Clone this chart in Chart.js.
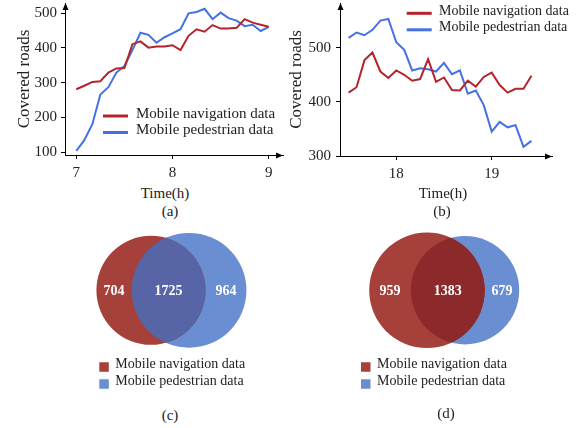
<!DOCTYPE html>
<html>
<head>
<meta charset="utf-8">
<title>Covered roads: navigation vs pedestrian data</title>
<script src="https://cdn.jsdelivr.net/npm/chart.js@4.4.1/dist/chart.umd.min.js"></script>
<style>
  html, body { margin: 0; padding: 0; background: #fff; }
  #fig { position: relative; width: 584px; height: 428px; overflow: hidden;
         font-family: "Liberation Serif", "Times New Roman", serif; color: #222; }
  #fig canvas { position: absolute; }
  .lbl { position: absolute; transform: translate(-50%, -50%); white-space: nowrap; line-height: 1; }
</style>
</head>
<body>
<div id="fig">
  <canvas id="chartA" width="285" height="180" style="left:0;top:0"></canvas>
  <canvas id="chartB" width="304" height="180" style="left:280px;top:0"></canvas>
  <canvas id="chartC" width="290" height="175" style="left:0;top:222px"></canvas>
  <canvas id="chartD" width="304" height="175" style="left:280px;top:222px"></canvas>

  <div class="lbl" style="left:165px;top:193px;font-size:15px">Time(h)</div>
  <div class="lbl" style="left:170px;top:211px;font-size:15px">(a)</div>
  <div class="lbl" style="left:443px;top:193px;font-size:15px">Time(h)</div>
  <div class="lbl" style="left:442px;top:211px;font-size:15px">(b)</div>
  <div class="lbl" style="left:170px;top:415px;font-size:15px">(c)</div>
  <div class="lbl" style="left:446px;top:413px;font-size:15px">(d)</div>
</div>

<script>
// ---- data ---------------------------------------------------------------
const seriesNames = ['Mobile navigation data', 'Mobile pedestrian data'];

// Morning peak, 5-minute samples
const timesMorning = ['7:00','7:05','7:10','7:15','7:20','7:25','7:30','7:35','7:40','7:45',
                      '7:50','7:55','8:00','8:05','8:10','8:15','8:20','8:25','8:30','8:35',
                      '8:40','8:45','8:50','8:55','9:00'];
const navMorning = [281, 291, 302, 304, 329, 341, 342, 411, 419, 401,
                    404, 404, 408, 394, 435, 454, 447, 466, 456, 456,
                    458, 483, 473, 467, 461];
const pedMorning = [103, 134, 180, 266, 287, 329, 348, 394, 444, 438,
                    415, 431, 442, 454, 500, 504, 513, 483, 502, 486,
                    479, 463, 467, 449, 461];

// Evening peak, 5-minute samples
const timesEvening = ['17:30','17:35','17:40','17:45','17:50','17:55','18:00','18:05','18:10','18:15',
                      '18:20','18:25','18:30','18:35','18:40','18:45','18:50','18:55','19:00','19:05',
                      '19:10','19:15','19:20','19:25'];
const navEvening = [417, 427, 477, 491, 456, 444, 458, 450, 439, 442,
                    479, 437, 445, 422, 421, 439, 428, 446, 454, 431,
                    417, 424, 424, 448];
const pedEvening = [518, 528, 523, 533, 550, 553, 510, 496, 458, 462,
                    460, 456, 472, 451, 458, 415, 421, 394, 345, 363,
                    353, 357, 317, 328];

// Axis ticks
const xTicksMorning = [7, 8, 9];
const yTicksMorning = [100, 200, 300, 400, 500];
const xTicksEvening = [18, 19];
const yTicksEvening = [300, 400, 500];

// Road counts: [navigation only, both, pedestrian only]
const overlapMorning = [704, 1725, 964];
const overlapEvening = [959, 1383, 679];

// ---- styling --------------------------------------------------------------
const RED = '#b3242b';
const BLUE = '#4570e6';
const VENN_RED = '#a6403a';
const VENN_BLUE = '#6a8ed2';
const SERIF = '"Liberation Serif", "Times New Roman", serif';
const INK = '#222';

const toHours = t => { const [h, m] = t.split(':').map(Number); return h + m / 60; };

// arrowheads at the ends of both axes
const axisArrows = {
  id: 'axisArrows',
  afterDraw(chart) {
    const { ctx, chartArea: a } = chart;
    const x0 = Math.floor(a.left) + 0.5, y0 = Math.floor(a.bottom) + 0.5;
    ctx.save();
    ctx.fillStyle = '#000';
    ctx.beginPath();
    ctx.moveTo(x0, a.top); ctx.lineTo(x0 - 3, a.top + 7); ctx.lineTo(x0 + 3, a.top + 7);
    ctx.closePath(); ctx.fill();
    ctx.beginPath();
    ctx.moveTo(a.right, y0); ctx.lineTo(a.right - 7, y0 - 3); ctx.lineTo(a.right - 7, y0 + 3);
    ctx.closePath(); ctx.fill();
    ctx.restore();
  }
};

// legend drawn inside the plot (line swatches or square swatches)
const keyLegend = {
  id: 'keyLegend',
  afterDraw(chart, args, o) {
    const { ctx } = chart;
    ctx.save();
    ctx.font = o.font;
    ctx.textBaseline = 'middle';
    chart.data.datasets.forEach((ds, i) => {
      const y = o.y + i * o.gap;
      if (o.swatch === 'line') {
        ctx.strokeStyle = ds.borderColor;
        ctx.lineWidth = 3;
        ctx.beginPath(); ctx.moveTo(o.x, y); ctx.lineTo(o.x + o.len, y); ctx.stroke();
      } else {
        ctx.fillStyle = ds.backgroundColor;
        ctx.fillRect(o.x, y - o.len / 2, o.len, o.len);
      }
      ctx.fillStyle = INK;
      ctx.fillText(ds.label, o.textX, y + o.textDy);
    });
    ctx.restore();
  }
};

function fixedBox(size, horizontal) {
  return s => {
    if (horizontal) s.height = size; else s.width = size;
    s.paddingTop = s.paddingBottom = s.paddingLeft = s.paddingRight = 0;
  };
}

function lineChart(id, times, nav, ped, cfg) {
  const pts = arr => times.map((t, i) => ({ x: toHours(t), y: arr[i] }));
  const line = (label, data, color) => ({
    label, data, borderColor: color, backgroundColor: color,
    borderWidth: 2, pointRadius: 0, tension: 0, fill: false
  });
  return new Chart(document.getElementById(id), {
    type: 'line',
    data: { datasets: [line(seriesNames[0], pts(nav), RED), line(seriesNames[1], pts(ped), BLUE)] },
    options: {
      responsive: false, animation: false, devicePixelRatio: 1,
      events: [],
      layout: { autoPadding: false, padding: { left: 0, top: 3, right: cfg.padRight, bottom: 0 } },
      plugins: {
        legend: { display: false }, tooltip: { enabled: false },
        keyLegend: Object.assign({ swatch: 'line', len: 25, gap: 16.5, textDy: -2 }, cfg.legend)
      },
      scales: {
        x: {
          type: 'linear', min: cfg.xMin, max: cfg.xMax,
          afterBuildTicks: s => { s.ticks = cfg.xTicks.map(v => ({ value: v })); },
          afterFit: fixedBox(cfg.xBox, true),
          grid: { drawOnChartArea: false, color: '#000', tickLength: 4, tickWidth: 1 },
          border: { color: '#000', width: 1 },
          ticks: { color: INK, padding: 5, maxRotation: 0, autoSkip: false,
                   font: { family: SERIF, size: cfg.tickSize } }
        },
        y: {
          type: 'linear', min: cfg.yMin, max: cfg.yMax,
          afterBuildTicks: s => { s.ticks = cfg.yTicks.map(v => ({ value: v })); },
          afterFit: fixedBox(cfg.yBox, false),
          grid: { drawOnChartArea: false, color: '#000', tickLength: 4, tickWidth: 1 },
          border: { color: '#000', width: 1 },
          ticks: { color: INK, padding: cfg.yTickPad, font: { family: SERIF, size: cfg.tickSize } },
          title: { display: true, text: 'Covered roads', color: INK,
                   padding: { top: cfg.yTitlePad, bottom: 0 },
                   font: { family: SERIF, size: 17 } }
        }
      }
    },
    plugins: [axisArrows, keyLegend]
  });
}

lineChart('chartA', timesMorning, navMorning, pedMorning, {
  xMin: 6.8825, xMax: 9.1486, yMin: 91.35, yMax: 529.7,
  xTicks: xTicksMorning, yTicks: yTicksMorning,
  xBox: 25, yBox: 65, padRight: 2, tickSize: 15, yTickPad: 4, yTitlePad: 14.8,
  legend: { x: 103, y: 116, textX: 136, font: '15px ' + SERIF }
});

lineChart('chartB', timesEvening, navEvening, pedEvening, {
  xMin: 17.41, xMax: 19.632, yMin: 300, yMax: 582.5,
  xTicks: xTicksEvening, yTicks: yTicksEvening,
  xBox: 24, yBox: 60, padRight: 32, tickSize: 15, yTickPad: 5, yTitlePad: 6.5,
  legend: { x: 126.7, y: 13.3, textX: 159, font: '14px ' + SERIF }
});

// ---- overlap diagrams ----------------------------------------------------
const VENN_R0 = 56;      // radius of a set of average size, px
const VENN_SPREAD = 0.68; // centre distance as a share of the mean radius

const vennOverlay = {
  id: 'vennOverlay',
  afterDatasetsDraw(chart, args, o) {
    const { ctx } = chart;
    const a = chart.getDatasetMeta(0).data[0];
    const b = chart.getDatasetMeta(1).data[0];
    const ra = chart.data.datasets[0].data[0].r;
    const rb = chart.data.datasets[1].data[0].r;
    ctx.save();
    ctx.beginPath(); ctx.arc(a.x, a.y, ra, 0, Math.PI * 2); ctx.clip();
    ctx.beginPath(); ctx.arc(b.x, b.y, rb, 0, Math.PI * 2);
    ctx.fillStyle = o.color; ctx.fill();
    ctx.restore();

    const aL = a.x - ra, aR = a.x + ra, bL = b.x - rb, bR = b.x + rb;
    const xs = [(aL + bL) / 2, (bL + aR) / 2, (aR + bR) / 2];
    ctx.save();
    ctx.fillStyle = '#fff';
    ctx.font = 'bold 14px ' + SERIF;
    ctx.textAlign = 'center';
    ctx.textBaseline = 'middle';
    o.counts.forEach((c, i) => ctx.fillText(String(c), xs[i], a.y + 1));
    ctx.restore();
  }
};

function vennChart(id, counts, cfg) {
  const [onlyNav, both, onlyPed] = counts;
  const sizes = [onlyNav + both, both + onlyPed];
  const mean = (sizes[0] + sizes[1]) / 2;
  const radii = sizes.map(s => VENN_R0 * Math.sqrt(s / mean));
  const d = VENN_SPREAD * (radii[0] + radii[1]) / 2;
  const canvas = document.getElementById(id);
  return new Chart(canvas, {
    type: 'bubble',
    data: {
      datasets: [
        { label: seriesNames[0], data: [{ x: cfg.cx - d / 2, y: cfg.cy, r: radii[0] }],
          backgroundColor: VENN_RED, borderWidth: 0, hoverRadius: 0 },
        { label: seriesNames[1], data: [{ x: cfg.cx + d / 2, y: cfg.cy, r: radii[1] }],
          backgroundColor: VENN_BLUE, borderWidth: 0, hoverRadius: 0 }
      ]
    },
    options: {
      responsive: false, animation: false, devicePixelRatio: 1, events: [],
      layout: { autoPadding: false, padding: 0 },
      plugins: {
        legend: { display: false }, tooltip: { enabled: false },
        vennOverlay: { color: cfg.overlapColor, counts },
        keyLegend: { swatch: 'box', x: cfg.keyX, y: 145, gap: 17, len: 9.5,
                     textX: cfg.keyX + 16, textDy: -2.5, font: '14px ' + SERIF }
      },
      scales: {
        x: { type: 'linear', min: 0, max: canvas.width, display: false },
        y: { type: 'linear', min: 0, max: canvas.height, reverse: true, display: false }
      }
    },
    plugins: [vennOverlay, keyLegend]
  });
}

vennChart('chartC', overlapMorning, { cx: 170, cy: 68.3, overlapColor: '#5765a6', keyX: 99.3 });
vennChart('chartD', overlapEvening, { cx: 166, cy: 68.3, overlapColor: '#8c292b', keyX: 81 });
</script>
</body>
</html>
